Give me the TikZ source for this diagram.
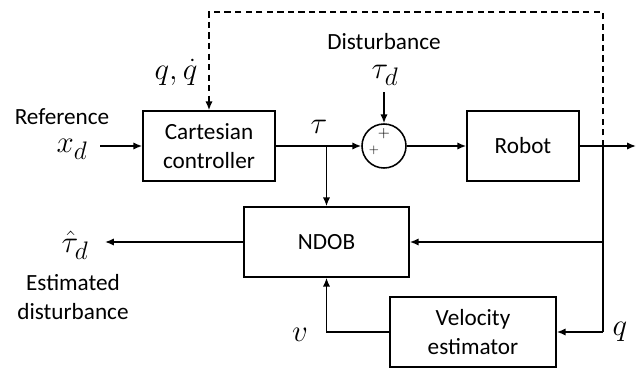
\RequirePackage{fix-cm}
\documentclass[tikz,border=0pt]{standalone}
\usepackage{fontspec}
\setmainfont{Carlito}
\usetikzlibrary{arrows.meta, positioning}

\newcommand{\txtsize}{\fontsize{16.5}{20.5}\selectfont}
\newcommand{\symsize}{\fontsize{22}{26}\selectfont}
\DeclareMathSizes{22}{22}{18}{14}

\tikzset{
  block/.style={draw, rectangle, minimum height=1.75cm, align=center, font=\txtsize, inner sep=2pt},
  sumcircle/.style={draw, circle, minimum size=1.1cm, inner sep=0pt},
  sig/.style={-{Latex[length=2.2mm,width=1.8mm]}},
  lbl/.style={font=\txtsize, align=center, inner sep=0pt},
  mlbl/.style={font=\symsize, inner sep=0pt},
}

\begin{document}
\begin{tikzpicture}[x=0.025cm, y=-0.025cm, line width=1.1pt]
        \useasboundingbox (0,0) rectangle (640,369);

        % Blocks
        \node[block, minimum width=3.3cm] (ctrl) at (209,146) {Cartesian\\controller};
        \node[sumcircle] (sum) at (384,146) {};
        \node[block, minimum width=2.8cm] (robot) at (523,146) {Robot};
        \node[block, minimum width=4.125cm] (ndob) at (326.5,242) {NDOB};
        \node[block, minimum width=4.15cm] (vel) at (473,332) {Velocity\\estimator};

        % Signs in the summing junction
        \node[font=\fontsize{11}{11}\selectfont, inner sep=0pt] (plustop) at (384,134) {$+$};
        \node[font=\fontsize{9}{9}\selectfont, inner sep=0pt] (plusleft) at (374,150) {$+$};

        % Labels
        \node[lbl] (reflbl) at (62,117) {Reference};
        \node[mlbl] (xd) at (72,149) {$x_d$};
        \node[mlbl] (qqd) at (176,72) {$q,\dot{q}$};
        \node[mlbl] (tau) at (319,127) {$\tau$};
        \node[lbl] (distlbl) at (384,42) {Disturbance};
        \node[mlbl] (taud) at (385,75) {$\tau_d$};
        \node[mlbl] (tauhat) at (75,245) {$\hat{\tau}_d$};
        \node[lbl] (estlbl) at (73,297) {Estimated\\disturbance};
        \node[mlbl] (v) at (300,335) {$v$};
        \node[mlbl] (q) at (620,332) {$q$};

        % Free ends
        \coordinate (xin) at (100,146);
        \coordinate (qbr) at (603,146);
        \coordinate (qout) at (636,146);
        \coordinate (dtop) at (603,12);
        \coordinate (dsrc) at (384,92);
        \coordinate (tauout) at (105,242);
        \coordinate (qlow) at (603,332);

        % Forward path
        \draw[sig] (xin) -- (ctrl.west);
        \draw[sig] (ctrl.east) -- (sum.west);
        \draw[sig] (sum.east) -- (robot.west);
        \draw[sig] (robot.east) -- (qout);
        \draw[sig] (dsrc) -- (sum.north);

        % Observer
        \draw[sig] (ndob.north |- sum.west) -- (ndob.north);
        \draw (qbr) -- (qlow);
        \draw[sig] (ndob.east -| qbr) -- (ndob.east);
        \draw[sig] (qlow) -- (vel.east);
        \draw[sig] (vel.west) -| (ndob.south);
        \draw[sig] (ndob.west) -- (tauout);

        % Feedback of q, qdot
        \draw[sig, dash pattern=on 4.5pt off 3pt] (qbr) -- (dtop) -| (ctrl.north);
    \end{tikzpicture}
\end{document}
